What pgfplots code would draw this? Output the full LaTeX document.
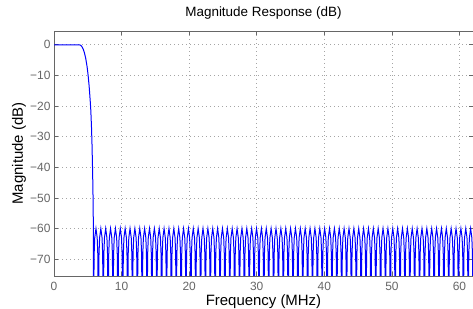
\documentclass[border=0pt]{standalone}
\usepackage{fontspec}
\setmainfont{Liberation Sans}
\usepackage{pgfplots}
\pgfplotsset{compat=1.18}
\definecolor{axgray}{RGB}{102,102,102}
\definecolor{gridgray}{RGB}{165,165,165}
\begin{document}
\begin{tikzpicture}
\path[use as bounding box] (-54bp,-33bp) rectangle (419bp,276bp);
\begin{axis}[
 at={(0,0)}, anchor=south west, scale only axis, width=419bp, height=245bp,
 xmin=0, xmax=62, ymin=-75.5, ymax=4.5,
 xtick={0,10,...,60}, ytick={-70,-60,...,0},
 yticklabels={−70,−60,−50,−40,−30,−20,−10,0},
 /pgf/number format/assume math mode=true,
 tick label style={font=\fontsize{12}{14}\selectfont, text=axgray},
 xticklabel style={yshift=-3bp},
 axis line style={axgray, line width=0.6bp},
 tick style={axgray, line width=0.6bp},
 major tick length=4bp,
 tick align=inside,
 grid=major,
 major grid style={gridgray, line width=0.6bp, dash pattern=on 1bp off 3bp},
 title={Magnitude Response (dB)},
 title style={at={(axis description cs:0.5,1.0367)}, anchor=base, font=\fontsize{13.5}{16}\selectfont},
 xlabel={Frequency (MHz)},
 xlabel style={at={(axis description cs:0.5,-0.1184)}, anchor=base, font=\fontsize{15}{18}\selectfont},
 ylabel={Magnitude (dB)},
 ylabel style={at={(axis description cs:-0.074,0.5)}, anchor=base, font=\fontsize{15}{18}\selectfont},
]
\addplot[color={rgb,255:red,0;green,0;blue,255}, line width=1bp] coordinates {
(0,0)(3.7,0)(3.9,-0.1)(4.1,-0.5)(4.3,-1.3)(4.5,-2.6)(4.7,-4.5)(4.9,-7.2)(5.05,-10)(5.2,-13.5)(5.35,-18)(5.45,-21.5)(5.55,-27)(5.63,-33)(5.7,-40)(5.76,-47)(5.8,-54)(5.83,-62)
(5.85,-90)(5.94,-68.3)(6.03,-63)(6.21,-60)(6.39,-63)(6.48,-68.3)
(6.57,-90)(6.66,-68.3)(6.75,-63)(6.93,-60)(7.11,-63)(7.20,-68.3)
(7.29,-90)(7.38,-68.3)(7.47,-63)(7.65,-60)(7.83,-63)(7.92,-68.3)
(8.01,-90)(8.10,-68.3)(8.19,-63)(8.37,-60)(8.55,-63)(8.64,-68.3)
(8.73,-90)(8.82,-68.3)(8.91,-63)(9.09,-60)(9.27,-63)(9.36,-68.3)
(9.45,-90)(9.54,-68.3)(9.63,-63)(9.81,-60)(9.99,-63)(10.08,-68.3)
(10.17,-90)(10.26,-68.3)(10.35,-63)(10.53,-60)(10.71,-63)(10.80,-68.3)
(10.89,-90)(10.98,-68.3)(11.07,-63)(11.25,-60)(11.43,-63)(11.52,-68.3)
(11.61,-90)(11.70,-68.3)(11.79,-63)(11.97,-60)(12.15,-63)(12.24,-68.3)
(12.33,-90)(12.42,-68.3)(12.51,-63)(12.69,-60)(12.87,-63)(12.96,-68.3)
(13.05,-90)(13.14,-68.3)(13.23,-63)(13.41,-60)(13.59,-63)(13.68,-68.3)
(13.77,-90)(13.86,-68.3)(13.95,-63)(14.13,-60)(14.31,-63)(14.40,-68.3)
(14.49,-90)(14.58,-68.3)(14.67,-63)(14.85,-60)(15.03,-63)(15.12,-68.3)
(15.21,-90)(15.30,-68.3)(15.39,-63)(15.57,-60)(15.75,-63)(15.84,-68.3)
(15.93,-90)(16.02,-68.3)(16.11,-63)(16.29,-60)(16.47,-63)(16.56,-68.3)
(16.65,-90)(16.74,-68.3)(16.83,-63)(17.01,-60)(17.19,-63)(17.28,-68.3)
(17.37,-90)(17.46,-68.3)(17.55,-63)(17.73,-60)(17.91,-63)(18.00,-68.3)
(18.09,-90)(18.18,-68.3)(18.27,-63)(18.45,-60)(18.63,-63)(18.72,-68.3)
(18.81,-90)(18.90,-68.3)(18.99,-63)(19.17,-60)(19.35,-63)(19.44,-68.3)
(19.53,-90)(19.62,-68.3)(19.71,-63)(19.89,-60)(20.07,-63)(20.16,-68.3)
(20.25,-90)(20.34,-68.3)(20.43,-63)(20.61,-60)(20.79,-63)(20.88,-68.3)
(20.97,-90)(21.06,-68.3)(21.15,-63)(21.33,-60)(21.51,-63)(21.60,-68.3)
(21.69,-90)(21.78,-68.3)(21.87,-63)(22.05,-60)(22.23,-63)(22.32,-68.3)
(22.41,-90)(22.50,-68.3)(22.59,-63)(22.77,-60)(22.95,-63)(23.04,-68.3)
(23.13,-90)(23.22,-68.3)(23.31,-63)(23.49,-60)(23.67,-63)(23.76,-68.3)
(23.85,-90)(23.94,-68.3)(24.03,-63)(24.21,-60)(24.39,-63)(24.48,-68.3)
(24.57,-90)(24.66,-68.3)(24.75,-63)(24.93,-60)(25.11,-63)(25.20,-68.3)
(25.29,-90)(25.38,-68.3)(25.47,-63)(25.65,-60)(25.83,-63)(25.92,-68.3)
(26.01,-90)(26.10,-68.3)(26.19,-63)(26.37,-60)(26.55,-63)(26.64,-68.3)
(26.73,-90)(26.82,-68.3)(26.91,-63)(27.09,-60)(27.27,-63)(27.36,-68.3)
(27.45,-90)(27.54,-68.3)(27.63,-63)(27.81,-60)(27.99,-63)(28.08,-68.3)
(28.17,-90)(28.26,-68.3)(28.35,-63)(28.53,-60)(28.71,-63)(28.80,-68.3)
(28.89,-90)(28.98,-68.3)(29.07,-63)(29.25,-60)(29.43,-63)(29.52,-68.3)
(29.61,-90)(29.70,-68.3)(29.79,-63)(29.97,-60)(30.15,-63)(30.24,-68.3)
(30.33,-90)(30.42,-68.3)(30.51,-63)(30.69,-60)(30.87,-63)(30.96,-68.3)
(31.05,-90)(31.14,-68.3)(31.23,-63)(31.41,-60)(31.59,-63)(31.68,-68.3)
(31.77,-90)(31.86,-68.3)(31.95,-63)(32.13,-60)(32.31,-63)(32.40,-68.3)
(32.49,-90)(32.58,-68.3)(32.67,-63)(32.85,-60)(33.03,-63)(33.12,-68.3)
(33.21,-90)(33.30,-68.3)(33.39,-63)(33.57,-60)(33.75,-63)(33.84,-68.3)
(33.93,-90)(34.02,-68.3)(34.11,-63)(34.29,-60)(34.47,-63)(34.56,-68.3)
(34.65,-90)(34.74,-68.3)(34.83,-63)(35.01,-60)(35.19,-63)(35.28,-68.3)
(35.37,-90)(35.46,-68.3)(35.55,-63)(35.73,-60)(35.91,-63)(36.00,-68.3)
(36.09,-90)(36.18,-68.3)(36.27,-63)(36.45,-60)(36.63,-63)(36.72,-68.3)
(36.81,-90)(36.90,-68.3)(36.99,-63)(37.17,-60)(37.35,-63)(37.44,-68.3)
(37.53,-90)(37.62,-68.3)(37.71,-63)(37.89,-60)(38.07,-63)(38.16,-68.3)
(38.25,-90)(38.34,-68.3)(38.43,-63)(38.61,-60)(38.79,-63)(38.88,-68.3)
(38.97,-90)(39.06,-68.3)(39.15,-63)(39.33,-60)(39.51,-63)(39.60,-68.3)
(39.69,-90)(39.78,-68.3)(39.87,-63)(40.05,-60)(40.23,-63)(40.32,-68.3)
(40.41,-90)(40.50,-68.3)(40.59,-63)(40.77,-60)(40.95,-63)(41.04,-68.3)
(41.13,-90)(41.22,-68.3)(41.31,-63)(41.49,-60)(41.67,-63)(41.76,-68.3)
(41.85,-90)(41.94,-68.3)(42.03,-63)(42.21,-60)(42.39,-63)(42.48,-68.3)
(42.57,-90)(42.66,-68.3)(42.75,-63)(42.93,-60)(43.11,-63)(43.20,-68.3)
(43.29,-90)(43.38,-68.3)(43.47,-63)(43.65,-60)(43.83,-63)(43.92,-68.3)
(44.01,-90)(44.10,-68.3)(44.19,-63)(44.37,-60)(44.55,-63)(44.64,-68.3)
(44.73,-90)(44.82,-68.3)(44.91,-63)(45.09,-60)(45.27,-63)(45.36,-68.3)
(45.45,-90)(45.54,-68.3)(45.63,-63)(45.81,-60)(45.99,-63)(46.08,-68.3)
(46.17,-90)(46.26,-68.3)(46.35,-63)(46.53,-60)(46.71,-63)(46.80,-68.3)
(46.89,-90)(46.98,-68.3)(47.07,-63)(47.25,-60)(47.43,-63)(47.52,-68.3)
(47.61,-90)(47.70,-68.3)(47.79,-63)(47.97,-60)(48.15,-63)(48.24,-68.3)
(48.33,-90)(48.42,-68.3)(48.51,-63)(48.69,-60)(48.87,-63)(48.96,-68.3)
(49.05,-90)(49.14,-68.3)(49.23,-63)(49.41,-60)(49.59,-63)(49.68,-68.3)
(49.77,-90)(49.86,-68.3)(49.95,-63)(50.13,-60)(50.31,-63)(50.40,-68.3)
(50.49,-90)(50.58,-68.3)(50.67,-63)(50.85,-60)(51.03,-63)(51.12,-68.3)
(51.21,-90)(51.30,-68.3)(51.39,-63)(51.57,-60)(51.75,-63)(51.84,-68.3)
(51.93,-90)(52.02,-68.3)(52.11,-63)(52.29,-60)(52.47,-63)(52.56,-68.3)
(52.65,-90)(52.74,-68.3)(52.83,-63)(53.01,-60)(53.19,-63)(53.28,-68.3)
(53.37,-90)(53.46,-68.3)(53.55,-63)(53.73,-60)(53.91,-63)(54.00,-68.3)
(54.09,-90)(54.18,-68.3)(54.27,-63)(54.45,-60)(54.63,-63)(54.72,-68.3)
(54.81,-90)(54.90,-68.3)(54.99,-63)(55.17,-60)(55.35,-63)(55.44,-68.3)
(55.53,-90)(55.62,-68.3)(55.71,-63)(55.89,-60)(56.07,-63)(56.16,-68.3)
(56.25,-90)(56.34,-68.3)(56.43,-63)(56.61,-60)(56.79,-63)(56.88,-68.3)
(56.97,-90)(57.06,-68.3)(57.15,-63)(57.33,-60)(57.51,-63)(57.60,-68.3)
(57.69,-90)(57.78,-68.3)(57.87,-63)(58.05,-60)(58.23,-63)(58.32,-68.3)
(58.41,-90)(58.50,-68.3)(58.59,-63)(58.77,-60)(58.95,-63)(59.04,-68.3)
(59.13,-90)(59.22,-68.3)(59.31,-63)(59.49,-60)(59.67,-63)(59.76,-68.3)
(59.85,-90)(59.94,-68.3)(60.03,-63)(60.21,-60)(60.39,-63)(60.48,-68.3)
(60.57,-90)(60.66,-68.3)(60.75,-63)(60.93,-60)(61.11,-63)(61.20,-68.3)
(61.29,-90)(61.38,-68.3)(61.47,-63)(61.65,-60)(61.83,-63)(61.92,-68.3)
(62.01,-90)
};
\end{axis}
\end{tikzpicture}
\end{document}
